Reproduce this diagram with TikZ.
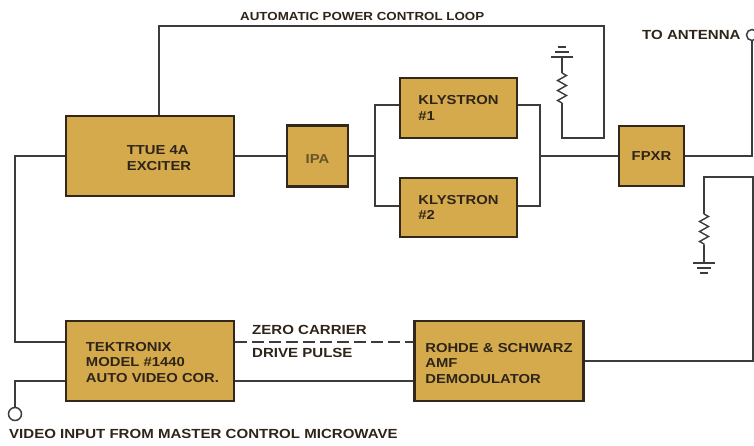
\documentclass[tikz,border=0pt]{standalone}
\usepackage{fontspec}
\setmainfont[FakeStretch=1.14]{Liberation Sans}
\usetikzlibrary{calc}
\usetikzlibrary{decorations.pathmorphing}
\definecolor{gold}{HTML}{D4AA4C}
\definecolor{rim}{HTML}{33261A}
\definecolor{ink}{HTML}{2E2418}
\definecolor{wirecolor}{HTML}{3C3C3C}
\newcommand{\boxlines}[2]{\kern#1\begin{tabular}{@{}l@{}}#2\end{tabular}}
\tikzset{
    block/.style={draw=rim, fill=gold, line width=2.4pt, text=ink, inner sep=0pt,
        font=\bfseries\fontsize{13}{15.4}\selectfont, align=left},
    wire/.style={draw=wirecolor, line width=1.4pt},
    caption/.style={text=ink, inner sep=0pt, anchor=west,
        font=\bfseries\fontsize{13.2}{15}\selectfont},
    terminal/.style={circle, draw=wirecolor, fill=white, line width=1.5pt,
        minimum size=#1, inner sep=0pt},
    resistor/.style={wire, decorate,
        decoration={zigzag, amplitude=4.5pt, segment length=10pt}},
    pics/earth/.style={code={
        \draw[wire] (-11,0) -- (11,0);
        \draw[wire] (-7,5) -- (7,5);
        \draw[wire] (-4,10) -- (4,10);
    }}
}
\begin{document}
\begin{tikzpicture}[x=1pt, y=-1pt]
    \useasboundingbox (0,0) rectangle (754,445);
    % blocks
    \node[block, minimum width=168pt, minimum height=80pt] (exciter) at (150,156)
        {\boxlines{18pt}{\rule{0pt}{18pt}TTUE 4A\\EXCITER}};
    \node[block, minimum width=61pt, minimum height=61pt, text=ink!65!gold] (ipa) at (317.5,156) {\rule{0pt}{14pt}IPA};
    \node[block, minimum width=117pt, minimum height=60pt] (klystronA) at (458.5,108) {KLYSTRON\\\#1};
    \node[block, minimum width=117pt, minimum height=59pt] (klystronB) at (458.5,207.5) {KLYSTRON\\\#2};
    \node[block, minimum width=65pt, minimum height=60pt] (fpxr) at (651.5,156) {FPXR};
    \node[block, minimum width=168pt, minimum height=80pt] (tek) at (150,361)
        {\boxlines{5pt}{\rule{0pt}{16pt}TEKTRONIX\\MODEL \#1440\\AUTO VIDEO COR.}};
    \node[block, minimum width=169pt, minimum height=80pt] (rohde) at (499,361)
        {\rule{0pt}{13.4pt}ROHDE \& SCHWARZ\\AMF\\DEMODULATOR};
    % terminals
    \node[terminal=11pt] (antenna) at (752,35) {};
    \node[terminal=13pt] (videoin) at (15,414) {};
    % texts
    \node[caption, font=\bfseries\fontsize{11.7}{14}\selectfont] (looplabel) at (240,16) {AUTOMATIC POWER CONTROL LOOP};
    \node[caption] (antennalabel) at (642,35) {TO ANTENNA};
    \node[caption] (zerolabel) at (252,330) {ZERO CARRIER};
    \node[caption] (drivelabel) at (252,353) {DRIVE PULSE};
    \node[caption] (videolabel) at (9,434) {VIDEO INPUT FROM MASTER CONTROL MICROWAVE};
    % free corners
    \coordinate (looptop) at (159,26);
    \coordinate (loopend) at (604,138);
    \coordinate (earthA) at (562,57);
    \coordinate (resAtop) at (562,73);
    \coordinate (resAbot) at (562,103);
    \coordinate (splitin) at (375,156);
    \coordinate (joinout) at (540,156);
    \coordinate (leftbus) at (15,342);
    \coordinate (samplecorner) at (753,177);
    \coordinate (earthB) at (704,263);
    \coordinate (resBtop) at (704,214);
    \coordinate (resBbot) at (704,245);
    % main chain
    \draw[wire] (exciter.east) -- (ipa.west);
    \draw[wire] (ipa.east) -- (splitin);
    \draw[wire] ([yshift=3pt]klystronA.west) -| (splitin) |- ([yshift=1.5pt]klystronB.west);
    \draw[wire] ([yshift=3pt]klystronA.east) -| (joinout) |- ([yshift=1.5pt]klystronB.east);
    \draw[wire] (joinout) -- (fpxr.west);
    \draw[wire] (fpxr.east) -| (antenna.south);
    % power control loop
    \draw[wire] (looptop |- exciter.north) -- (looptop) -| (loopend) -| (resAbot);
    \draw[resistor] (resAtop) -- (resAbot);
    \draw[wire] (earthA) -- (resAtop);
    \pic at (earthA) [yscale=-1] {earth};
    % sample from demodulator side
    \draw[wire] (rohde.east) -| (samplecorner) -| (resBtop);
    \draw[resistor] (resBtop) -- (resBbot);
    \draw[wire] (resBbot) -- (earthB);
    \pic at (earthB) {earth};
    % lower row
    \draw[wire] (exciter.west) -| (leftbus) -- ([yshift=19pt]tek.west);
    \draw[wire] ([yshift=-20pt]tek.west) -| (videoin.north);
    \draw[wire, dash pattern=on 12pt off 5pt] ([yshift=19pt]tek.east) -- ([yshift=19pt]rohde.west);
    \draw[wire] ([yshift=-20pt]tek.east) -- ([yshift=-20pt]rohde.west);
\end{tikzpicture}
\end{document}
